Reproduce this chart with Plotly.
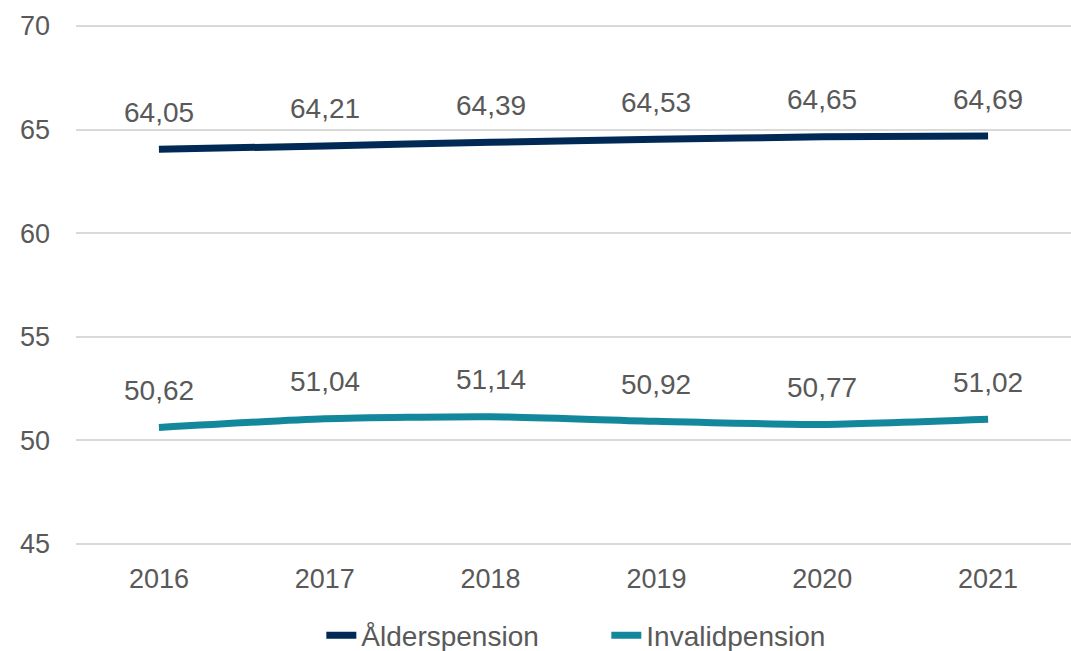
import plotly.graph_objects as go

# --- data ---
years = [2016, 2017, 2018, 2019, 2020, 2021]
alderspension = [64.05, 64.21, 64.39, 64.53, 64.65, 64.69]
invalidpension = [50.62, 51.04, 51.14, 50.92, 50.77, 51.02]

series = [
    ("Ålderspension", alderspension, "#002a55"),
    ("Invalidpension", invalidpension, "#13879b"),
]

fig = go.Figure()

for name, vals, color in series:
    fig.add_trace(go.Scatter(
        x=years, y=vals, name=name, mode="lines",
        line=dict(color=color, width=7, shape="spline", smoothing=0.6),
        hoverinfo="skip",
    ))
    # value labels above each point (decimal comma)
    for x, v in zip(years, vals):
        fig.add_annotation(
            x=x, y=v, text=f"{v:.2f}".replace(".", ","),
            showarrow=False, yshift=37,
            font=dict(size=28, color="#595959"),
        )

fig.update_layout(
    width=1071, height=651,
    margin=dict(l=76, r=0, t=25, b=106),
    paper_bgcolor="white", plot_bgcolor="white",
    font=dict(family="Liberation Sans, Arial, sans-serif", size=27, color="#595959"),
    showlegend=True,
    legend=dict(
        orientation="h", yref="container", y=0.062, yanchor="top",
        x=0.533, xanchor="center",
        font=dict(size=28, color="#595959"),
        entrywidthmode="pixels", entrywidth=240,
        traceorder="normal",
    ),
)

fig.update_xaxes(
    range=[years[0] - 0.5, years[-1] + 0.5], tickvals=years,
    showgrid=False, zeroline=False, showline=False,
    ticks="", ticklabelstandoff=15, tickfont=dict(size=27),
)
fig.update_yaxes(
    range=[44.95, 70.05], tickvals=[45, 50, 55, 60, 65, 70],
    showgrid=True, gridcolor="#d9d9d9", gridwidth=2,
    zeroline=False, showline=False, ticklabelstandoff=25,
    tickfont=dict(size=27),
)

fig.write_html(
    "out.html",
    config={"displayModeBar": False},
    post_script="document.body.style.margin='0';document.body.style.overflow='hidden';",
)
